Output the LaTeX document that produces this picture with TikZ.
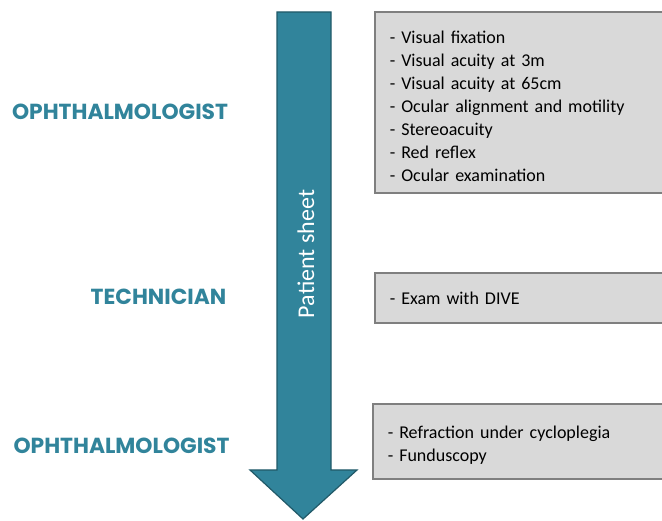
\documentclass[tikz,border=0pt]{standalone}
\usepackage{fontspec}
\setmainfont{Carlito}
\newfontfamily\rolefont{Poppins}
\definecolor{sheetblue}{HTML}{31849B}
\definecolor{sheetedge}{HTML}{215968}
\definecolor{boxgray}{HTML}{D9D9D9}
\definecolor{boxedge}{HTML}{7F7F7F}
\tikzset{every picture/.style={x=1pt,y=-1pt}}
\tikzset{exam box/.style={draw=boxedge, line width=1.5pt, fill=boxgray, anchor=west, minimum width=310pt,
  text width=280pt, inner xsep=12pt, align=left, font=\fontsize{18}{23}\selectfont}}
\tikzset{role/.style={text=sheetblue, font=\rolefont\bfseries\fontsize{21.8}{24}\selectfont}}
\newcommand{\toprule}{\rule{0pt}{19.5pt}}

\begin{document}
\begin{tikzpicture}
        \useasboundingbox (0,0) rectangle (662,521);
        % patient sheet arrow
        \draw[sheetedge, line width=1.2pt, fill=sheetblue, line join=miter]
            (277,12) -- (331,12) -- (331,470) -- (357,470) -- (303,519) -- (250,470) -- (277,470) -- cycle;
        \node[rotate=90, text=white, font=\fontsize{24}{28}\selectfont] (sheet) at (306,254) {Patient sheet};
        % exams
        \node[exam box, minimum height=181pt] (visit1) at (374,102.5) {\toprule- Visual fixation\\- Visual acuity at 3m\\- Visual acuity at 65cm\\- Ocular alignment and motility\\- Stereoacuity\\- Red reflex\\- Ocular examination};
        \node[exam box, minimum height=50pt] (visit2) at (374,298) {- Exam with DIVE};
        \node[exam box, minimum height=75pt] (visit3) at (372,441.5) {\toprule- Refraction under cycloplegia\\- Funduscopy};
        % who does it
        \node[role] (oph1) at (120,112) {OPHTHALMOLOGIST};
        \node[role] (tech) at (158.5,297) {TECHNICIAN};
        \node[role] (oph2) at (121.5,446) {OPHTHALMOLOGIST};
    \end{tikzpicture}
\end{document}
